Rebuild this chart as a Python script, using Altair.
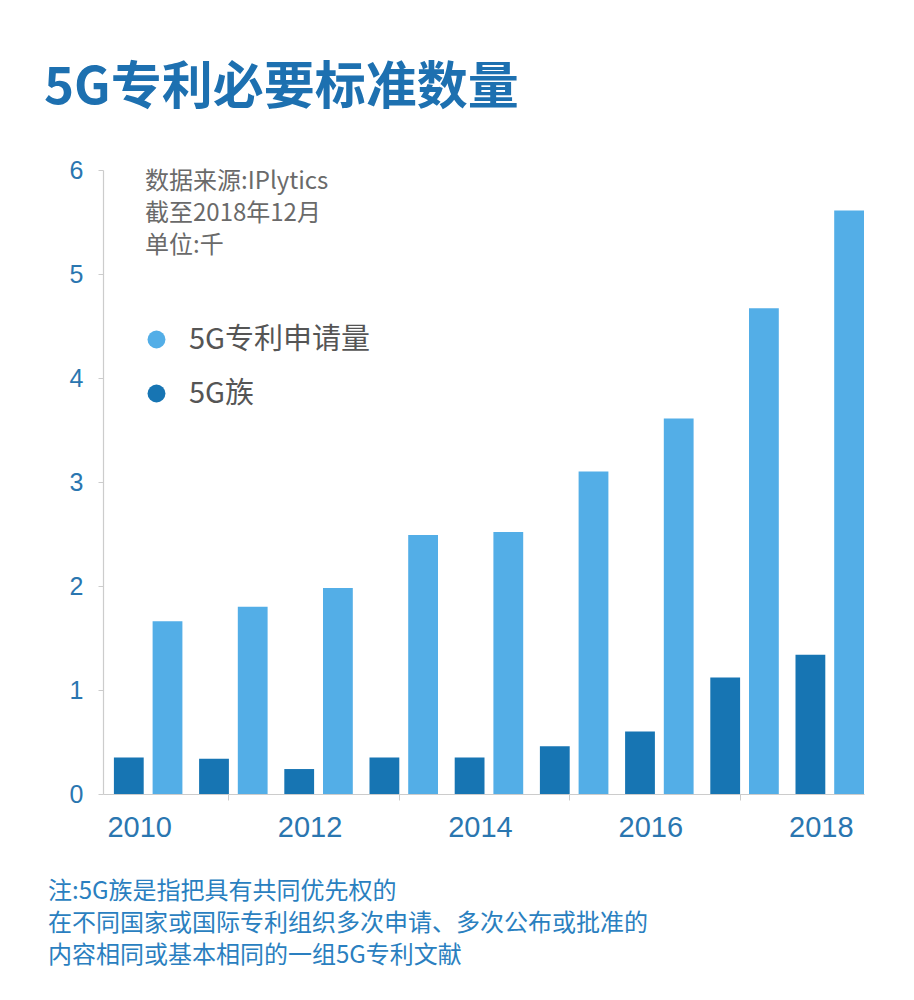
import altair as alt
import pandas as pd

# ---- data ----
years = [2010, 2011, 2012, 2013, 2014, 2015, 2016, 2017, 2018]
applications = [1.66, 1.80, 1.98, 2.49, 2.52, 3.10, 3.61, 4.67, 5.61]   # 5G专利申请量 (千)
families = [0.35, 0.34, 0.24, 0.35, 0.35, 0.46, 0.60, 1.12, 1.34]       # 5G族 (千)
series_names = ["5G专利申请量", "5G族"]
series_colors = ["#53aee7", "#1775b3"]
y_ticks = [0, 1, 2, 3, 4, 5, 6]
title_text = "5G专利必要标准数量"
source_lines = ["数据来源:IPlytics", "截至2018年12月", "单位:千"]
note_lines = [
    "注:5G族是指把具有共同优先权的",
    "在不同国家或国际专利组织多次申请、多次公布或批准的",
    "内容相同或基本相同的一组5G专利文献",
]

rows = []
for yr, a, f in zip(years, applications, families):
    rows.append({"year": yr, "series": series_names[0], "value": a})
    rows.append({"year": yr, "series": series_names[1], "value": f})
df = pd.DataFrame(rows)

W, H = 761, 624
CJK = "Noto Sans CJK SC"
AXIS_BLUE = "#2a76b0"
GRAY_LINE = "#cccccc"

bars = alt.Chart(df).mark_bar().encode(
    x=alt.X(
        "year:O",
        scale=alt.Scale(paddingInner=0.196, paddingOuter=0.064, align=1),
        axis=alt.Axis(
            title=None,
            labelAngle=0,
            labelExpr="datum.value % 2 == 0 ? datum.label : ''",
            labelFont="Liberation Sans",
            labelFontSize=29,
            labelColor=AXIS_BLUE,
            labelPadding=13,
            labelOffset=-4,
            tickOffset=-5,
            tickSize=6,
            tickColor={"condition": {"test": "datum.value % 2 == 1", "value": GRAY_LINE},
                       "value": "rgba(0,0,0,0)"},
            domainColor=GRAY_LINE,
            domainWidth=1.2,
            grid=False,
        ),
    ),
    xOffset=alt.XOffset(
        "series:N",
        sort=["5G族", "5G专利申请量"],
        scale=alt.Scale(paddingInner=0.23, paddingOuter=0),
    ),
    y=alt.Y(
        "value:Q",
        scale=alt.Scale(domain=[0, 6], nice=False),
        axis=alt.Axis(
            title=None,
            values=y_ticks,
            labelFont="Liberation Sans",
            labelFontSize=25,
            labelColor=AXIS_BLUE,
            labelPadding=15,
            tickSize=5,
            tickColor=GRAY_LINE,
            domainColor=GRAY_LINE,
            domainWidth=1.2,
            grid=False,
        ),
    ),
    color=alt.Color(
        "series:N",
        scale=alt.Scale(domain=series_names, range=series_colors),
        legend=alt.Legend(
            orient="none",
            legendX=39,
            legendY=155,
            title=None,
            symbolType="circle",
            symbolSize=320,
            symbolStrokeWidth=0,
            symbolOpacity=1,
            labelFont=CJK,
            labelFontSize=29,
            labelColor="#555555",
            labelOffset=18,
            labelLimit=400,
            rowPadding=24,
            padding=0,
        ),
    ),
)

one = pd.DataFrame({"k": [0]})

title = alt.Chart(one).mark_text(
    align="left", baseline="alphabetic", font=CJK, fontSize=51, fontWeight="bold", color="#1d70b0"
).encode(x=alt.value(-59), y=alt.value(-66), text=alt.value(title_text))

source = alt.Chart(one).mark_text(
    align="left", baseline="top", font=CJK, fontSize=24, color="#6a6a6a", lineHeight=32
).encode(x=alt.value(42), y=alt.value(0), text=alt.value(source_lines))

note = alt.Chart(one).mark_text(
    align="left", baseline="top", font=CJK, fontSize=24, color="#2a7fc0", lineHeight=32
).encode(x=alt.value(-55), y=alt.value(710), text=alt.value(note_lines))

chart = alt.layer(bars, title, source, note).properties(
    width=W,
    height=H,
    padding={"left": 95, "top": 162, "right": 36, "bottom": 190},
    autosize=alt.AutoSizeParams(type="none"),
).configure(background="white").configure_view(stroke=None)

chart.save("out.html", embed_options={"renderer": "svg", "actions": False})
